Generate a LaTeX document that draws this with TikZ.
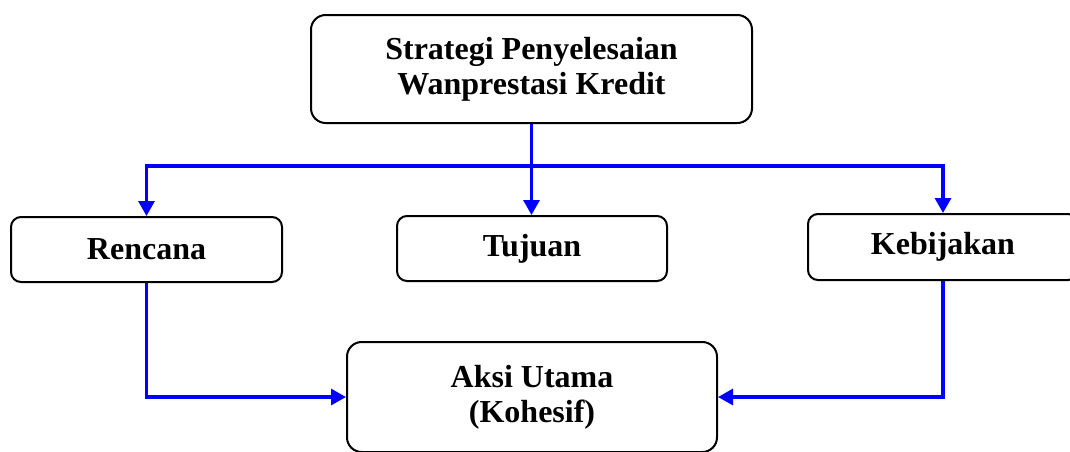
\documentclass[tikz,border=0pt]{standalone}
\usepackage{fontspec}
\setmainfont{Liberation Serif}
\usetikzlibrary{arrows.meta}
\definecolor{lineblue}{RGB}{0,0,255}
\tikzset{
  box/.style={draw=black, line width=1.5pt, rounded corners=7.5pt, inner sep=0pt, align=center,
    font=\bfseries\fontsize{24}{26.5}\selectfont},
  bigbox/.style={box, rounded corners=11pt},
  arr/.style={draw=lineblue, line width=2.3pt, -{Triangle[length=11.25pt, width=12pt]}},
}
\begin{document}
\begin{tikzpicture}[x=0.75pt, y=-0.75pt]
\useasboundingbox (0,0) rectangle (1070,451);
\clip (0,0) rectangle (1070,451);
\node[bigbox, minimum width=330.75pt, minimum height=81pt] (top) at (531.5,69) {Strategi Penyelesaian\\Wanprestasi Kredit};
\node[box, minimum width=203.25pt, minimum height=48.75pt] (rencana) at (146.5,249.5) {Rencana};
\node[box, minimum width=202.5pt, minimum height=48.75pt] (tujuan) at (532,248.5) {Tujuan};
\node[box, minimum width=202.5pt, minimum height=49.5pt] (kebijakan) at (943,247) {Kebijakan};
\node[bigbox, minimum width=277.5pt, minimum height=82.5pt] (aksi) at (532,397) {Aksi Utama\\(Kohesif)};
\coordinate (j) at (top.south |- 0,166);
\draw[arr] (top.south) -- (top.south |- tujuan.north);
\draw[arr] (j) -| (rencana.north);
\draw[arr] (j) -| (kebijakan.north);
\draw[arr] (rencana.south) |- (aksi.west);
\draw[arr] (kebijakan.south) |- (aksi.east);
\end{tikzpicture}
\end{document}
